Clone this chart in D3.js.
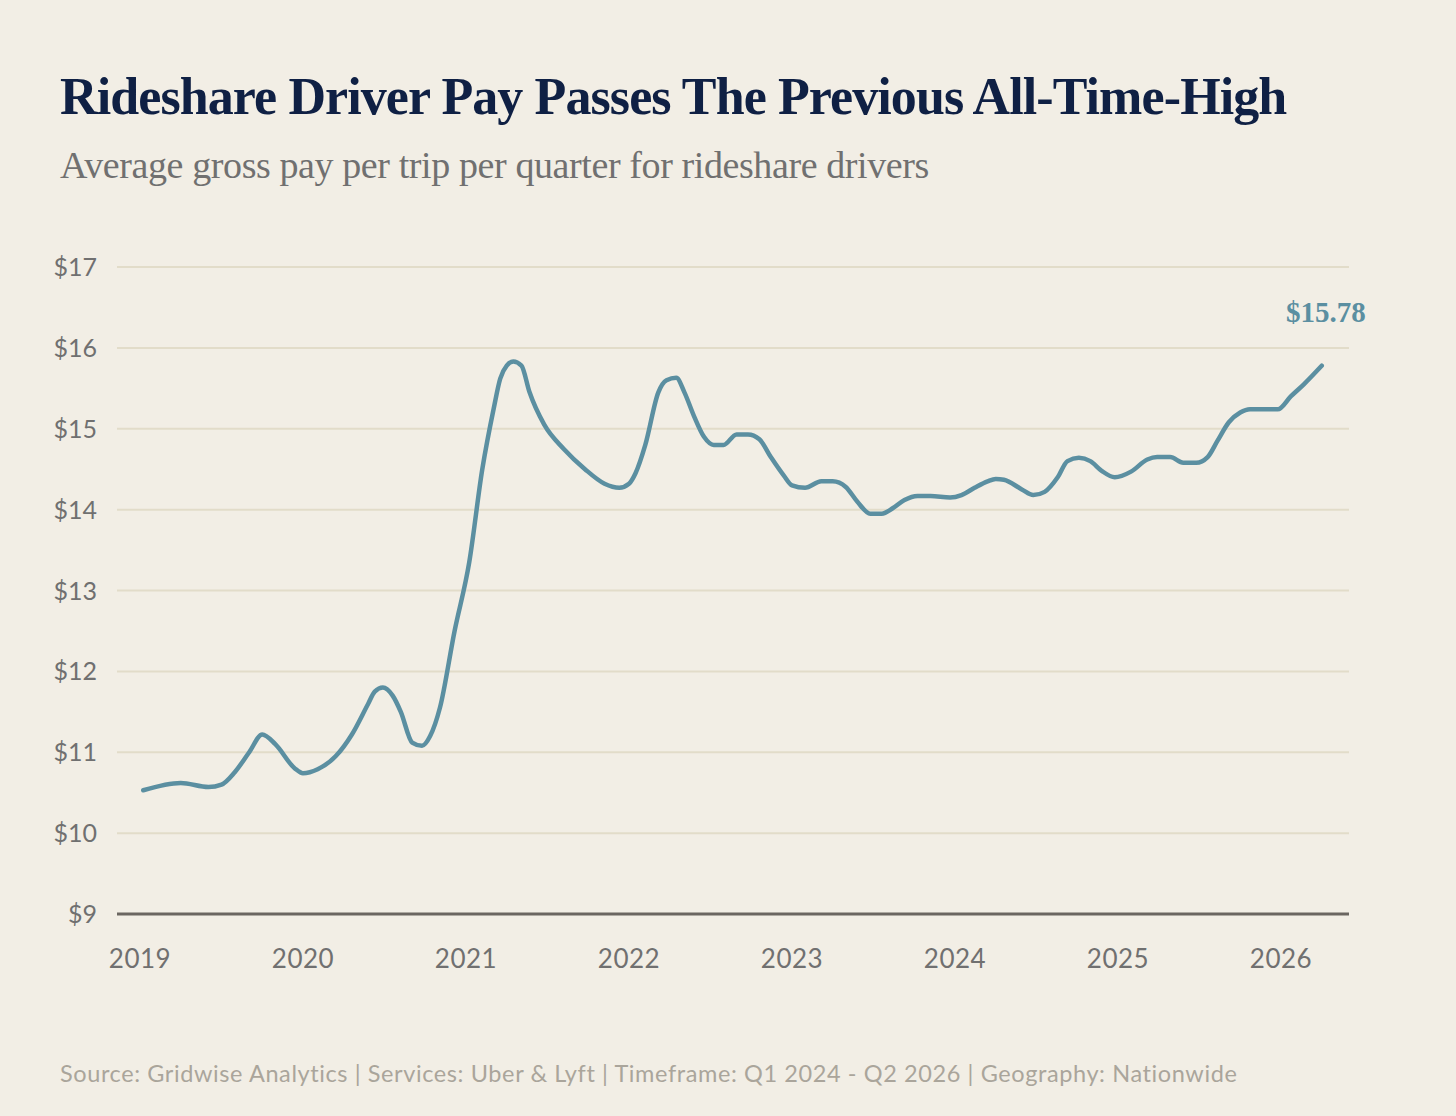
<!DOCTYPE html>
<html><head><meta charset="utf-8">
<script src="https://cdn.jsdelivr.net/npm/d3@7"></script>
<style>body{margin:0;background:#f2eee5}svg{display:block}</style>
</head><body>
<script>
const dates=[2019.02,2019.25,2019.42,2019.5,2019.58,2019.67,2019.75,2019.83,2019.95,2020.0,2020.09,2020.2,2020.3,2020.4,2020.44,2020.49,2020.55,2020.6,2020.67,2020.73,2020.78,2020.84,2020.93,2021.02,2021.1,2021.17,2021.21,2021.25,2021.29,2021.34,2021.39,2021.48,2021.6,2021.73,2021.85,2021.94,2022.0,2022.04,2022.1,2022.18,2022.23,2022.29,2022.34,2022.4,2022.46,2022.52,2022.58,2022.66,2022.73,2022.8,2022.87,2022.95,2023.0,2023.08,2023.18,2023.25,2023.33,2023.4,2023.48,2023.55,2023.62,2023.69,2023.77,2023.85,2023.97,2024.04,2024.12,2024.2,2024.25,2024.3,2024.41,2024.48,2024.55,2024.63,2024.69,2024.76,2024.83,2024.9,2024.98,2025.08,2025.18,2025.24,2025.32,2025.4,2025.48,2025.55,2025.61,2025.68,2025.75,2025.81,2025.9,2025.98,2026.06,2026.14,2026.25];
const pay=[10.53,10.62,10.57,10.6,10.75,11.0,11.22,11.1,10.8,10.74,10.79,10.95,11.22,11.6,11.75,11.8,11.7,11.5,11.12,11.08,11.2,11.55,12.5,13.35,14.5,15.25,15.62,15.78,15.83,15.78,15.45,15.05,14.75,14.5,14.32,14.27,14.32,14.45,14.8,15.45,15.6,15.63,15.45,15.15,14.9,14.8,14.8,14.93,14.93,14.87,14.65,14.42,14.3,14.27,14.35,14.35,14.28,14.1,13.95,13.95,14.02,14.12,14.17,14.17,14.15,14.18,14.27,14.35,14.38,14.37,14.25,14.18,14.22,14.4,14.6,14.64,14.6,14.48,14.4,14.47,14.62,14.65,14.65,14.58,14.58,14.65,14.85,15.08,15.2,15.24,15.24,15.24,15.4,15.55,15.78];
const yTicks=[9,10,11,12,13,14,15,16,17];
const xTicks=[2019,2020,2021,2022,2023,2024,2025,2026];
const endLabel="$15.78";
const title="Rideshare Driver Pay Passes The Previous All-Time-High";
const subtitle="Average gross pay per trip per quarter for rideshare drivers";
const source="Source: Gridwise Analytics | Services: Uber & Lyft | Timeframe: Q1 2024 - Q2 2026 | Geography: Nationwide";

const W=1456,H=1116;
const svg=d3.select("body").append("svg").attr("width",W).attr("height",H);
svg.append("rect").attr("width",W).attr("height",H).attr("fill","#f2eee5");
const x=d3.scaleLinear().domain([2019,2026]).range([140,1281]);
const y=d3.scaleLinear().domain([9,17]).range([914,267]);
svg.append("text").attr("x",60).attr("y",114).text(title)
 .attr("font-family","Liberation Serif, serif").attr("font-weight","bold").attr("font-size",52).attr("fill","#0f2044").attr("letter-spacing","-0.9");
svg.append("text").attr("x",60).attr("y",178).text(subtitle)
 .attr("font-family","Liberation Serif, serif").attr("font-size",38).attr("fill","#707070").attr("letter-spacing","-0.4");
const g=svg.append("g");
yTicks.forEach(t=>{
 g.append("line").attr("x1",117).attr("x2",1349).attr("y1",y(t)).attr("y2",y(t))
  .attr("stroke",t===9?"#6b6661":"#e2dcc9").attr("stroke-width",t===9?3:2);
 g.append("text").attr("x",97).attr("y",y(t)+9).attr("text-anchor","end").text("$"+t)
  .attr("font-family","Lato, sans-serif").attr("font-size",25).attr("fill","#707070");
});
xTicks.forEach(t=>{
 g.append("text").attr("x",x(t)).attr("y",968).attr("text-anchor","middle").text(t)
  .attr("font-family","Lato, sans-serif").attr("font-size",26).attr("fill","#707070").attr("letter-spacing","0.5");
});
const line=d3.line().x((d,i)=>x(dates[i])).y(d=>y(d)).curve(d3.curveMonotoneX);
g.append("path").datum(pay).attr("d",line).attr("fill","none").attr("stroke","#5b8fa1").attr("stroke-width",4.5).attr("stroke-linejoin","round").attr("stroke-linecap","round");
g.append("text").attr("x",x(dates[dates.length-1])+4).attr("y",y(pay[pay.length-1])-44).attr("text-anchor","middle").text(endLabel)
 .attr("font-family","Liberation Serif, serif").attr("font-weight","bold").attr("font-size",29).attr("fill","#5b8fa1");
svg.append("text").attr("x",60).attr("y",1082).text(source)
 .attr("font-family","Lato, sans-serif").attr("font-size",23.5).attr("fill","#aaa59b").attr("letter-spacing","0.6");
</script>
</body></html>
